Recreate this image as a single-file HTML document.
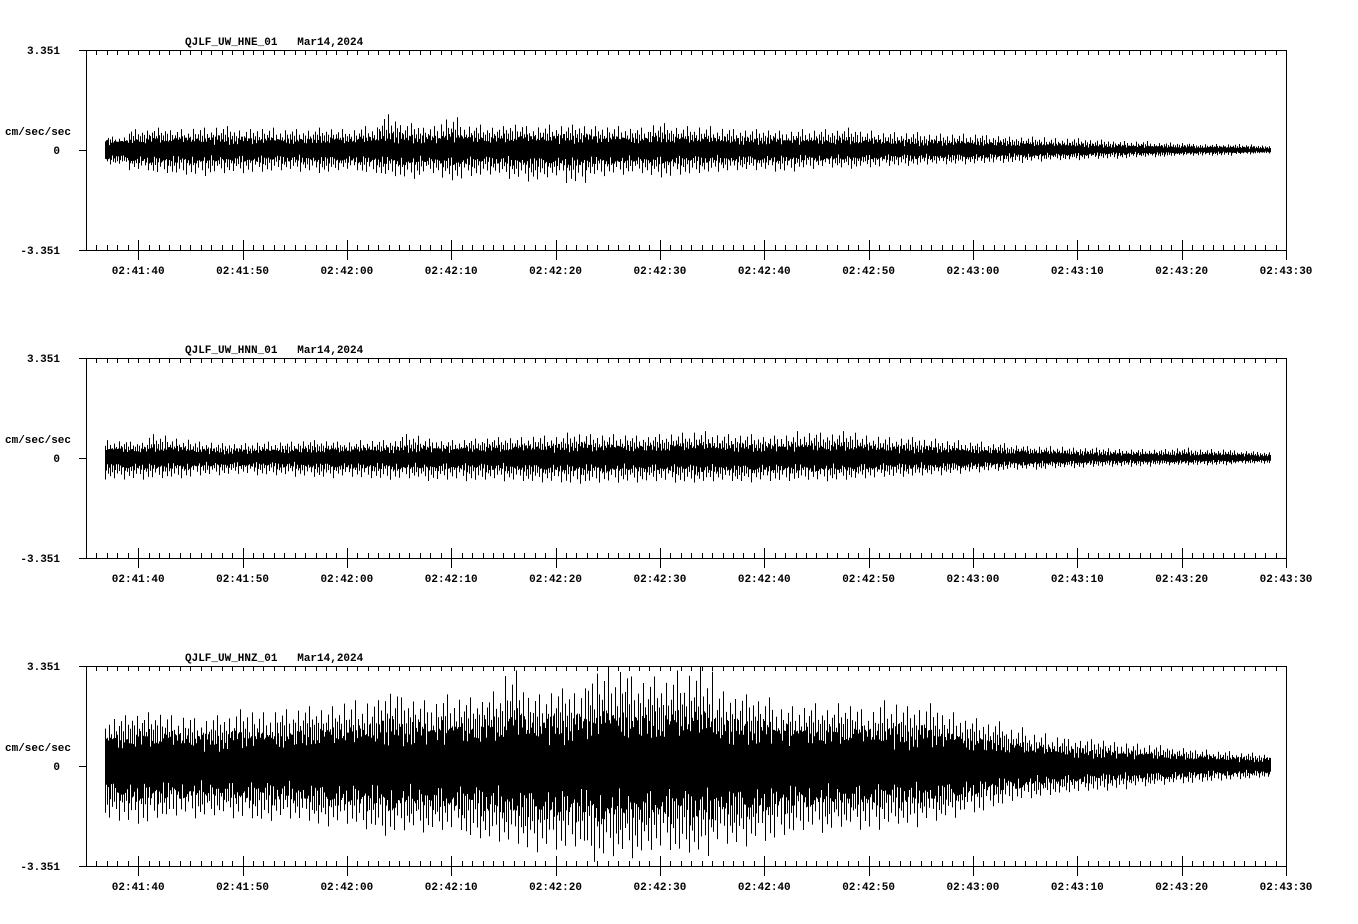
<!DOCTYPE html>
<html><head><meta charset="utf-8">
<style>
html,body{margin:0;padding:0;background:#fff;}
svg{display:block;}
text{font-family:"Liberation Mono","DejaVu Sans Mono",monospace;font-weight:bold;font-size:11px;fill:#000;}
</style></head>
<body>
<svg id="chart" width="1358" height="924" viewBox="0 0 1358 924"></svg>
<script>
// ---- data (cm/sec/sec), 2-second bins starting at 02:41:37 ----
const channels = ["QJLF_UW_HNE_01","QJLF_UW_HNN_01","QJLF_UW_HNZ_01"];
const dateLabel = "Mar14,2024";
const yMax = 3.351;
const tickLabels = ["02:41:40","02:41:50","02:42:00","02:42:10","02:42:20","02:42:30","02:42:40","02:42:50","02:43:00","02:43:10","02:43:20","02:43:30"];
const binStart = 2; // seconds after 02:41:35
const binWidth = 2;
const hneUp   = [0.45,0.7,0.75,0.7,0.75,0.8,0.7,0.75,0.7,0.7,0.75,0.7,0.8,1.2,0.9,0.8,1.1,0.85,0.8,0.9,0.8,0.85,0.85,0.8,0.8,0.75,0.9,0.8,0.8,0.75,0.7,0.7,0.65,0.7,0.7,0.75,0.65,0.6,0.6,0.55,0.55,0.55,0.5,0.45,0.45,0.4,0.4,0.35,0.3,0.3,0.25,0.25,0.2,0.2,0.2,0.15];
const hneDown = [-0.5,-0.7,-0.8,-0.85,-0.9,-0.8,-0.8,-0.75,-0.7,-0.75,-0.8,-0.7,-0.8,-0.9,-1.0,-0.8,-1.05,-0.9,-0.85,-1.0,-1.1,-0.95,-1.15,-0.9,-0.85,-0.8,-0.95,-0.85,-0.8,-0.75,-0.7,-0.7,-0.75,-0.65,-0.6,-0.65,-0.6,-0.55,-0.55,-0.5,-0.5,-0.5,-0.45,-0.45,-0.4,-0.35,-0.35,-0.3,-0.3,-0.25,-0.25,-0.2,-0.2,-0.2,-0.15,-0.12];
const hneCore = [0.3,0.35,0.38,0.36,0.35,0.35,0.33,0.34,0.33,0.32,0.35,0.33,0.36,0.4,0.4,0.38,0.42,0.4,0.38,0.4,0.4,0.4,0.42,0.4,0.38,0.36,0.38,0.36,0.35,0.33,0.32,0.32,0.32,0.3,0.3,0.3,0.28,0.27,0.26,0.25,0.24,0.23,0.22,0.2,0.19,0.18,0.17,0.15,0.14,0.13,0.12,0.11,0.1,0.1,0.09,0.08];
const hnnUp   = [0.6,0.55,0.8,0.65,0.55,0.5,0.5,0.55,0.55,0.6,0.6,0.55,0.6,0.6,0.8,0.65,0.6,0.65,0.7,0.7,0.75,0.75,0.85,0.8,0.8,0.75,0.8,0.85,0.9,0.8,0.8,0.75,0.8,0.9,0.85,0.9,0.75,0.7,0.7,0.65,0.6,0.55,0.5,0.45,0.4,0.4,0.35,0.35,0.3,0.3,0.3,0.35,0.3,0.3,0.25,0.2];
const hnnDown = [-0.75,-0.75,-0.7,-0.7,-0.6,-0.6,-0.55,-0.6,-0.6,-0.65,-0.7,-0.65,-0.7,-0.75,-0.7,-0.8,-0.75,-0.8,-0.75,-0.8,-0.85,-0.85,-0.9,-0.85,-0.85,-0.85,-0.8,-0.85,-0.85,-0.8,-0.85,-0.8,-0.8,-0.75,-0.8,-0.75,-0.7,-0.65,-0.65,-0.6,-0.55,-0.5,-0.45,-0.4,-0.4,-0.35,-0.35,-0.3,-0.3,-0.3,-0.25,-0.25,-0.25,-0.25,-0.2,-0.2];
const hnnCore = [0.3,0.3,0.32,0.3,0.26,0.24,0.24,0.25,0.26,0.27,0.28,0.28,0.3,0.3,0.32,0.32,0.3,0.32,0.33,0.34,0.35,0.35,0.38,0.37,0.37,0.36,0.36,0.38,0.4,0.37,0.38,0.36,0.37,0.38,0.37,0.38,0.34,0.32,0.31,0.29,0.27,0.25,0.23,0.21,0.19,0.18,0.16,0.15,0.14,0.13,0.13,0.13,0.12,0.12,0.11,0.1];
const hnzUp   = [1.7,1.8,1.8,1.7,1.6,1.7,1.9,1.8,1.9,2.0,2.0,2.2,2.2,2.6,2.3,2.2,2.4,2.3,2.5,3.2,2.4,2.6,2.6,3.3,3.35,3.0,3.0,3.2,3.35,2.5,2.4,2.3,2.0,2.1,2.0,2.1,1.9,2.2,2.0,2.1,1.8,1.6,1.5,1.3,1.1,1.0,0.9,0.9,0.8,0.75,0.7,0.6,0.55,0.5,0.45,0.4];
const hnzDown = [-1.9,-2.0,-1.8,-1.7,-1.8,-1.7,-1.8,-1.9,-1.8,-1.9,-2.1,-2.0,-2.2,-2.4,-2.2,-2.3,-2.2,-2.5,-2.6,-2.7,-3.0,-2.9,-2.8,-3.3,-3.1,-3.2,-2.9,-3.0,-3.1,-2.7,-2.8,-2.6,-2.4,-2.2,-2.3,-2.1,-2.2,-2.0,-2.1,-1.9,-1.8,-1.6,-1.4,-1.2,-1.1,-1.0,-0.9,-0.85,-0.8,-0.7,-0.65,-0.6,-0.55,-0.5,-0.45,-0.4];
const hnzCore = [0.9,1.0,1.0,0.95,0.95,0.95,1.0,1.0,1.0,1.05,1.1,1.1,1.15,1.25,1.2,1.2,1.25,1.25,1.3,1.4,1.35,1.4,1.4,1.5,1.5,1.45,1.4,1.45,1.45,1.3,1.3,1.25,1.2,1.15,1.15,1.15,1.1,1.1,1.05,1.05,0.95,0.85,0.75,0.65,0.6,0.55,0.5,0.45,0.42,0.4,0.37,0.33,0.3,0.28,0.26,0.24];
const seriesUp = [hneUp, hnnUp, hnzUp];
const seriesDown = [hneDown, hnnDown, hnzDown];
const seriesCore = [hneCore, hnnCore, hnzCore];

// ---- layout ----
const NS = "http://www.w3.org/2000/svg";
const svg = document.getElementById("chart");
const X0 = 86, X1 = 1286, T0 = 0, T1 = 115;
const panelTops = [50, 358, 666];
const PH = 200;
function xScale(t){ return X0 + (t - T0) / (T1 - T0) * (X1 - X0); }
function yScale(v, top){ return top + PH/2 - v / yMax * (PH/2); }
function mk(tag, attrs, parent){
  const e = document.createElementNS(NS, tag);
  for (const k in attrs) e.setAttribute(k, attrs[k]);
  (parent || svg).appendChild(e);
  return e;
}
// per-pixel texture patterns (styling only)
const textureUp = [0.1,0.55,0.25,0.8,0.05,0.4,0.15,1.0,0.3,0.0,0.6,0.2,0.35,0.05,0.7,0.15,0.45,0.0,0.25,0.9,0.1,0.5,0.3];
const textureDn = [0.3,0.05,0.65,0.2,0.0,0.95,0.35,0.1,0.5,0.2,0.75,0.0,0.4,0.15,0.85,0.25,0.05,0.55,0.1];
const coreTex = [0.9,0.6,1.0,0.75,0.5,0.95,0.7,0.85,0.55,1.0,0.65,0.8,0.6,0.9,0.7];
const coreTex2 = [0.7,1.0,0.55,0.85,0.95,0.6,0.8,0.5,1.0,0.75,0.65];

panelTops.forEach(function(top, p){
  const g = mk("g", {});
  
  
  const bottom = top + PH;
  const ax = mk("path", {d:"M"+X0+".5 "+top+".5H"+X1+".5V"+bottom+".5H"+X0+".5Z", fill:"none", stroke:"#000", "stroke-width":1}, g);
  
  
  [top, top+PH/2, bottom].forEach(function(y){
    const l = mk("line", {x1:X0-7, x2:X0, y1:y+0.5, y2:y+0.5, stroke:"#000"}, g);
    
    
  });
  for (let s = T0 + 1; s <= T1; s++){
    const x = Math.round(xScale(s)) + 0.5;
    const major = (s % 10) === 5;
    if (s < T1){
      const tt = mk("line", {x1:x, x2:x, y1:top, y2:top+5, stroke:"#000"}, g);
      
      
    }
    const bt = mk("line", {x1:x, x2:x, y1: major ? bottom-10 : bottom-5, y2: major ? bottom+10 : bottom, stroke:"#000"}, g);
    
    
  }
  tickLabels.forEach(function(lab, i){
    const t = mk("text", {x: xScale(5 + i*10), y: bottom + 24, "text-anchor":"middle"}, g);
    t.textContent = lab;
    
    
  });
  const yl = [[yMax.toFixed(3), top], ["0", top+PH/2], ["-" + yMax.toFixed(3), bottom]];
  yl.forEach(function(a){
    const t = mk("text", {x: 60, y: a[1] + 4, "text-anchor":"end"}, g);
    t.textContent = a[0];
    
    
  });
  const un = mk("text", {x: 5, y: top + 85}, g);
  un.textContent = "cm/sec/sec";
  
  
  const ti = mk("text", {x: 185, y: top - 5}, g);
  ti.textContent = channels[p] + "   " + dateLabel;
  ti.style.whiteSpace = "pre";
  
  

  const up = seriesUp[p], dn = seriesDown[p], core = seriesCore[p];
  const n = core.length;
  const tStart = binStart - 0.2, tEnd = binStart + n*binWidth - 0.5;
  const xs = Math.round(xScale(tStart)), xe = Math.round(xScale(tEnd));
  let d = "";
  for (let x = xs; x <= xe; x++){
    const t = T0 + (x - X0) / (X1 - X0) * (T1 - T0);
    let i = Math.floor((t - binStart) / binWidth);
    i = Math.max(0, Math.min(n - 1, i));
    const k = x - xs + p * 5;
    const wU = textureUp[k % textureUp.length];
    const wD = textureDn[k % textureDn.length];
    const cU = core[i] * coreTex[k % coreTex.length];
    const cD = core[i] * coreTex2[k % coreTex2.length];
    const hi = cU + (up[i] - cU) * wU;
    const lo = -cD + (dn[i] + cD) * wD;
    d += "M" + (x + 0.5) + " " + yScale(hi, top).toFixed(1) + "V" + yScale(lo, top).toFixed(1);
  }
  const sp = mk("path", {d: d, stroke:"#000", "stroke-width":1, fill:"none"}, g);
  
  
});
</script>
</body></html>
